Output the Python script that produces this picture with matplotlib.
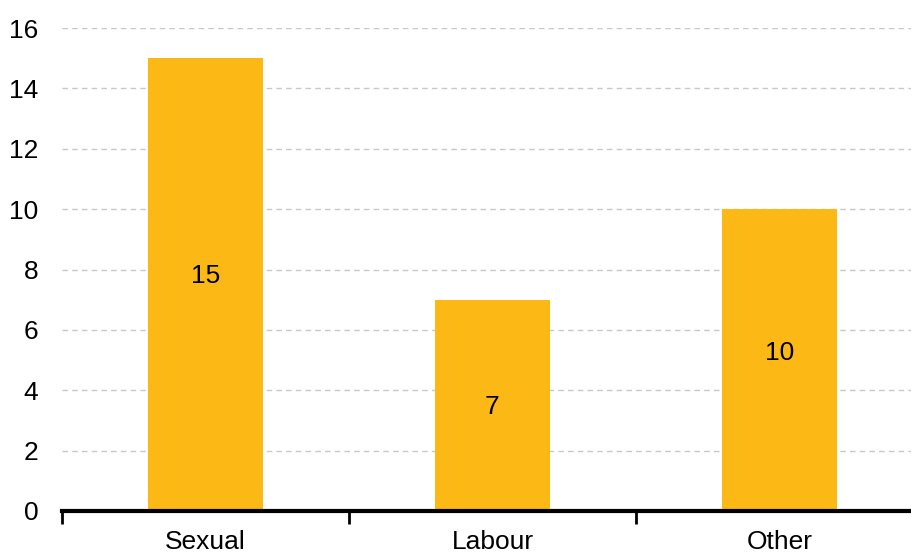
import matplotlib
matplotlib.use("Agg")
import matplotlib.pyplot as plt
import numpy as np

categories = ["Sexual", "Labour", "Other"]
values = [15, 7, 10]
yticks = [0, 2, 4, 6, 8, 10, 12, 14, 16]

plt.rcParams['font.family'] = ['Liberation Sans', 'DejaVu Sans']

fig = plt.figure(figsize=(9.12, 5.54), dpi=100)
W, H = 912, 554
left, right, bottom, top = 62, 912, 554 - 511, 554 - 28
ax = fig.add_axes([left / W, bottom / H, (right - left) / W, (top - bottom) / H])

x = np.arange(len(categories))
bars = ax.bar(x, values, width=0.4, color="#FCB814", zorder=3)

label_offsets = [0.3, -0.07, 0.23]
for xi, v, off in zip(x, values, label_offsets):
    ax.text(xi, v / 2 + off, str(v), ha="center", va="center", fontsize=19, color="black", zorder=4)

ax.set_ylim(0, 16)
ax.set_yticks(yticks)
ax.set_yticklabels([str(t) for t in yticks], fontsize=19)
ax.tick_params(axis="y", length=0, pad=17)

ax.set_xlim(-0.5, -0.5 + (912 - 62) / 287)
ax.set_xticks(x)
ax.set_xticklabels(categories, fontsize=19)
ax.tick_params(axis="x", length=0, pad=14)
ax.set_xticks(np.arange(-0.5, 2.5, 1.0), minor=True)
ax.tick_params(axis="x", which="minor", length=9, width=2, color="black", direction="out")

ax.grid(axis="y", linestyle=(0, (4, 3)), color="#C8C8C8", linewidth=1, zorder=0)
for s in ["top", "right", "left"]:
    ax.spines[s].set_visible(False)
ax.spines["bottom"].set_linewidth(3)
ax.spines["bottom"].set_color("black")
ax.spines["bottom"].set_zorder(5)

fig.savefig("out.png", dpi=100)
